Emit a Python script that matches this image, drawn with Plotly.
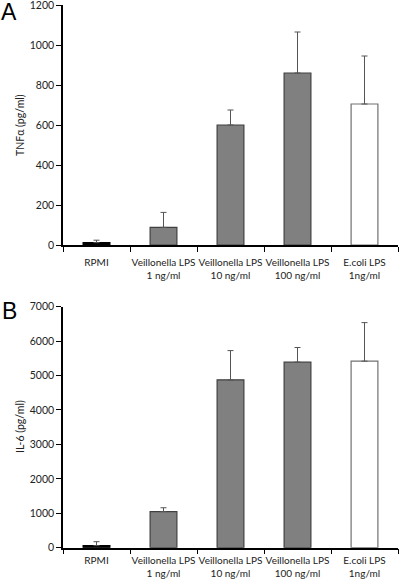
import plotly.graph_objects as go

categories = ["RPMI", "Veillonella LPS<br>1 ng/ml", "Veillonella LPS<br>10 ng/ml",
              "Veillonella LPS<br>100 ng/ml", "E.coli LPS<br>1ng/ml"]
tnf_values = [12, 88, 600, 860, 705]
tnf_errors = [12, 75, 75, 205, 240]
il6_values = [60, 1050, 4875, 5390, 5418]
il6_errors = [115, 110, 850, 425, 1120]
tnf_ticks = [0, 200, 400, 600, 800, 1000, 1200]
il6_ticks = [0, 1000, 2000, 3000, 4000, 5000, 6000, 7000]

fills = ["#000000", "#808080", "#808080", "#808080", "#ffffff"]
edges = ["#000000", "#404040", "#404040", "#404040", "#707070"]

W, H = 400, 580
FONT = "Lato"

fig = go.Figure()
fig.add_trace(go.Bar(x=categories, y=tnf_values, xaxis="x", yaxis="y", width=0.4,
                     marker=dict(color=fills, line=dict(color=edges, width=1.2)),
                     error_y=dict(type="data", array=tnf_errors, arrayminus=[0]*5,
                                  symmetric=False, color="#555555", thickness=1, width=3)))
fig.add_trace(go.Bar(x=categories, y=il6_values, xaxis="x2", yaxis="y2", width=0.4,
                     marker=dict(color=fills, line=dict(color=edges, width=1.2)),
                     error_y=dict(type="data", array=il6_errors, arrayminus=[0]*5,
                                  symmetric=False, color="#555555", thickness=1, width=3)))

x0, x1 = 63 / W, 398 / W
a_top, a_bot = 1 - 5 / H, 1 - 245 / H
b_top, b_bot = 1 - 306.7 / H, 1 - 547.7 / H

common_x = dict(type="category", range=[-0.5, 4.5], showline=True, linecolor="black",
                linewidth=1.5, ticks="outside", ticklen=5, tickwidth=1, tickcolor="black",
                tickson="boundaries", showgrid=False, zeroline=False, tickangle=0,
                automargin=False, ticklabeloverflow="allow",
                tickfont=dict(family=FONT, size=10, color="#222222"), domain=[x0, x1])
common_y = dict(showline=True, linecolor="black", linewidth=1.5, ticks="outside",
                ticklen=5, tickwidth=1, tickcolor="black", showgrid=False, zeroline=False,
                automargin=False, ticklabeloverflow="allow",
                tickfont=dict(family=FONT, size=10.5, color="#222222"))

fig.update_layout(
    width=W, height=H, margin=dict(l=0, r=0, t=0, b=0),
    paper_bgcolor="white", plot_bgcolor="white", showlegend=False, bargap=0.6,
    xaxis=dict(**common_x, anchor="y", ticklabelstandoff=7),
    xaxis2=dict(**common_x, anchor="y2", ticklabelstandoff=3),
    yaxis=dict(**common_y, range=[0, 1200], tickvals=tnf_ticks, domain=[a_bot, a_top], anchor="x"),
    yaxis2=dict(**common_y, range=[0, 7000], tickvals=il6_ticks, domain=[b_bot, b_top], anchor="x2"),
    annotations=[
        dict(text="A", x=9 / W, y=1 - 12 / H, xref="paper", yref="paper", showarrow=False,
             font=dict(family="Liberation Sans", size=23, color="black"), xanchor="center", yanchor="middle"),
        dict(text="B", x=9 / W, y=1 - 311 / H, xref="paper", yref="paper", showarrow=False,
             font=dict(family="Liberation Sans", size=23, color="black"), xanchor="center", yanchor="middle"),
        dict(text="TNFα (pg/ml)", x=20 / W, y=1 - 125 / H, xref="paper", yref="paper",
             showarrow=False, textangle=-90, font=dict(family=FONT, size=10.5, color="#222222"),
             xanchor="center", yanchor="middle"),
        dict(text="IL-6 (pg/ml)", x=20 / W, y=1 - 427 / H, xref="paper", yref="paper",
             showarrow=False, textangle=-90, font=dict(family=FONT, size=10.5, color="#222222"),
             xanchor="center", yanchor="middle"),
    ],
)

fig.write_html("out.html", config={"displayModeBar": False},
               post_script="document.body.style.margin='0';document.body.style.padding='0';")
